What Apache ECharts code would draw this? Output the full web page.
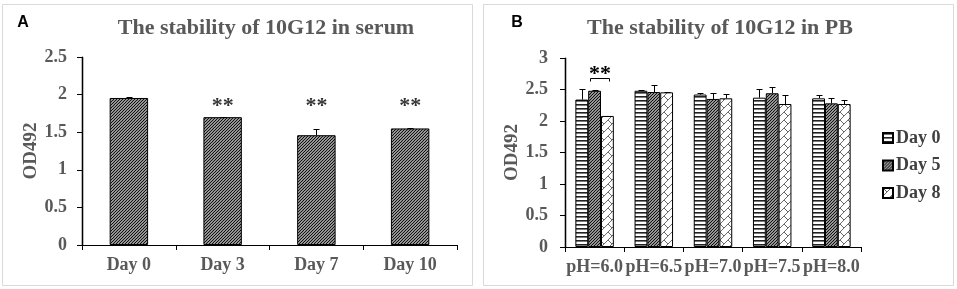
<!DOCTYPE html>
<html><head><meta charset="utf-8">
<script src="https://cdn.jsdelivr.net/npm/echarts@6/dist/echarts.min.js"></script>
<style>html,body{margin:0;padding:0;background:#fff}#c{width:957px;height:289px}</style>
</head><body><div id="c"></div>
<script>
// ---- data ----
const catA = ['Day 0', 'Day 3', 'Day 7', 'Day 10'];
const valA = [1.955, 1.70, 1.46, 1.55];
const errA = [0.01, 0.005, 0.08, 0.01];
const sigA = ['', '**', '**', '**'];
const sigAY = 1.84;

const catB = ['pH=6.0', 'pH=6.5', 'pH=7.0', 'pH=7.5', 'pH=8.0'];
const seriesNamesB = ['Day 0', 'Day 5', 'Day 8'];
const day0 = [2.34, 2.48, 2.42, 2.37, 2.36];
const err0 = [0.17, 0.01, 0.03, 0.14, 0.06];
const day5 = [2.48, 2.46, 2.35, 2.44, 2.28];
const err5 = [0.01, 0.11, 0.10, 0.10, 0.09];
const day8 = [2.08, 2.455, 2.36, 2.27, 2.27];
const err8 = [0.005, 0.005, 0.07, 0.14, 0.07];
const bracketB = [[0, 2.69]]; // significance bracket between Day 5 and Day 8 at pH=6.0

const yTicksA = {min: 0, max: 2.5, interval: 0.5};
const yTicksB = {min: 0, max: 3, interval: 0.5};

// ---- patterns ----
function mk(w, h, draw) {
  const c = document.createElement('canvas'); c.width = w; c.height = h;
  const g = c.getContext('2d'); g.fillStyle = '#fff'; g.fillRect(0, 0, w, h);
  draw(g); return {image: c, repeat: 'repeat'};
}
const patDiag = mk(3, 3, g => {
  g.strokeStyle = '#111'; g.lineWidth = 1.3;
  g.beginPath();
  g.moveTo(-1, 4); g.lineTo(4, -1);
  g.moveTo(-1, 1); g.lineTo(1, -1);
  g.moveTo(2, 4); g.lineTo(4, 2);
  g.stroke();
});
const patHoriz = mk(4, 4, g => {
  g.fillStyle = '#222'; g.fillRect(0, 0, 4, 1.6);
});
const patZig = mk(8, 8, g => {
  g.strokeStyle = '#444'; g.lineWidth = 0.8;
  g.beginPath();
  g.moveTo(0, 8); g.lineTo(8, 0);
  g.moveTo(0, 0); g.lineTo(4, 4);
  g.stroke();
});

const serif = '"Liberation Serif", "Times New Roman", serif';
const grey = '#595959';

const gapA = 0.59, gapB = 0.35;

function errRender(idx, n, gap) {
  return function (params, api) {
    const cat = api.value(0), v = api.value(1), e = api.value(2);
    const band = api.size([1, 0])[0];
    const gw = band * (1 - gap), bw = gw / n;
    const xc = Math.round(api.coord([cat, 0])[0] - gw / 2 + bw * (idx + 0.5)) + 0.5;
    const yb = api.coord([cat, v])[1], yt = Math.round(api.coord([cat, v + e])[1]) + 0.5;
    return {type: 'group', children: [
      {type: 'line', shape: {x1: xc, y1: yb, x2: xc, y2: yt}, style: {stroke: '#000', lineWidth: 1}},
      {type: 'line', shape: {x1: xc - 3, y1: yt, x2: xc + 3, y2: yt}, style: {stroke: '#000', lineWidth: 1}}
    ]};
  };
}

function yLineRender(params, api) {
  const band = api.size([1, 0])[0];
  const x = Math.round(api.coord([0, api.value(1)])[0] - band / 2) + 0.5;
  const y1 = api.coord([0, api.value(1)])[1], y2 = api.coord([0, api.value(2)])[1];
  return {type: 'line', shape: {x1: x, y1: y1 + 0.5, x2: x, y2: y2}, style: {stroke: '#000', lineWidth: 1.2}};
}

function axisCommon() {
  return {
    axisLine: {show: true, onZero: false, lineStyle: {color: '#000', width: 1.2}},
    axisTick: {show: true, length: 5, lineStyle: {color: '#000'}},
    splitLine: {show: false}
  };
}

const chart = echarts.init(document.getElementById('c'), null, {renderer: 'canvas'});
chart.setOption({
  animation: false,
  backgroundColor: '#fff',
  graphic: [
    {id: 'frameA', type: 'rect', shape: {x: 2.5, y: 4.5, width: 470, height: 281}, style: {fill: null, stroke: '#d9d9d9', lineWidth: 1}, z: -1, silent: true},
    {id: 'frameB', type: 'rect', shape: {x: 483.5, y: 4.5, width: 470, height: 281}, style: {fill: null, stroke: '#d9d9d9', lineWidth: 1}, z: -1, silent: true},
    {id: 'lblA', type: 'text', x: 23, y: 23, style: {text: 'A', font: 'bold 16px "Liberation Sans", Arial, sans-serif', fill: '#000', align: 'center', verticalAlign: 'middle'}},
    {id: 'lblB', type: 'text', x: 517, y: 23, style: {text: 'B', font: 'bold 16px "Liberation Sans", Arial, sans-serif', fill: '#000', align: 'center', verticalAlign: 'middle'}},
    {id: 'titleA', type: 'text', x: 266, y: 28, style: {text: 'The stability of 10G12 in serum', font: 'bold 22px ' + serif, fill: grey, align: 'center', verticalAlign: 'middle'}},
    {id: 'titleB', type: 'text', x: 720, y: 28, style: {text: 'The stability of 10G12 in PB', font: 'bold 22px ' + serif, fill: grey, align: 'center', verticalAlign: 'middle'}}
  ],
  grid: [
    {left: 82, top: 57, width: 375, height: 188},
    {left: 565, top: 58, width: 296, height: 189}
  ],
  legend: {
    data: seriesNamesB, orient: 'vertical', left: 877, top: 124,
    itemWidth: 10, itemHeight: 10, itemGap: 9.5, icon: 'rect',
    textStyle: {fontFamily: serif, fontWeight: 'bold', fontSize: 18, color: '#404040', padding: [0, 0, 0, -2]}
  },
  xAxis: [
    Object.assign({type: 'category', gridIndex: 0, data: catA,
      axisLabel: {fontFamily: serif, fontWeight: 'bold', fontSize: 18, color: grey, margin: 11}}, axisCommon()),
    Object.assign({type: 'category', gridIndex: 1, data: catB,
      axisLabel: {fontFamily: serif, fontWeight: 'bold', fontSize: 18, color: grey, margin: 11, interval: 0}}, axisCommon())
  ],
  yAxis: [
    Object.assign({type: 'value', gridIndex: 0, min: yTicksA.min, max: yTicksA.max, interval: yTicksA.interval,
      name: 'OD492', nameLocation: 'middle', nameGap: 40,
      nameTextStyle: {fontFamily: serif, fontWeight: 'bold', fontSize: 19, color: grey},
      axisLabel: {fontFamily: serif, fontWeight: 'bold', fontSize: 18, color: grey, margin: 15}}, axisCommon()),
    Object.assign({type: 'value', gridIndex: 1, min: yTicksB.min, max: yTicksB.max, interval: yTicksB.interval,
      name: 'OD492', nameLocation: 'middle', nameGap: 40,
      nameTextStyle: {fontFamily: serif, fontWeight: 'bold', fontSize: 19, color: grey},
      axisLabel: {fontFamily: serif, fontWeight: 'bold', fontSize: 18, color: grey, margin: 17}}, axisCommon())
  ],
  series: [
    {type: 'bar', name: 'serum', xAxisIndex: 0, yAxisIndex: 0, data: valA, barCategoryGap: (gapA * 100) + '%',
      itemStyle: {color: patDiag, borderColor: '#000', borderWidth: 1}},
    {type: 'custom', name: 'errA', xAxisIndex: 0, yAxisIndex: 0, z: 5,
      data: valA.map((v, i) => [i, v, errA[i]]), encode: {x: 0, y: 1},
      renderItem: errRender(0, 1, gapA)},
    {type: 'scatter', name: 'sigA', xAxisIndex: 0, yAxisIndex: 0, symbolSize: 0,
      data: sigA.map((s, i) => [i, sigAY, s]).filter(d => d[2]),
      label: {show: true, position: 'inside', formatter: p => p.value[2],
        fontFamily: serif, fontWeight: 'bold', fontSize: 22, color: '#000'}},
    {type: 'custom', name: 'yLineA', xAxisIndex: 0, yAxisIndex: 0, z: 10, clip: false, silent: true,
      data: [[0, yTicksA.min, yTicksA.max]], encode: {x: 0, y: [1, 2]}, renderItem: yLineRender},

    {type: 'bar', name: seriesNamesB[0], xAxisIndex: 1, yAxisIndex: 1, data: day0, barGap: '0%', barCategoryGap: (gapB * 100) + '%',
      itemStyle: {color: patHoriz, borderColor: '#000', borderWidth: 1}},
    {type: 'bar', name: seriesNamesB[1], xAxisIndex: 1, yAxisIndex: 1, data: day5, barGap: '0%', barCategoryGap: (gapB * 100) + '%',
      itemStyle: {color: patDiag, borderColor: '#000', borderWidth: 1}},
    {type: 'bar', name: seriesNamesB[2], xAxisIndex: 1, yAxisIndex: 1, data: day8, barGap: '0%', barCategoryGap: (gapB * 100) + '%',
      itemStyle: {color: patZig, borderColor: '#000', borderWidth: 1}},
    {type: 'custom', name: 'err0', xAxisIndex: 1, yAxisIndex: 1, z: 5,
      data: day0.map((v, i) => [i, v, err0[i]]), encode: {x: 0, y: 1}, renderItem: errRender(0, 3, gapB)},
    {type: 'custom', name: 'err5', xAxisIndex: 1, yAxisIndex: 1, z: 5,
      data: day5.map((v, i) => [i, v, err5[i]]), encode: {x: 0, y: 1}, renderItem: errRender(1, 3, gapB)},
    {type: 'custom', name: 'err8', xAxisIndex: 1, yAxisIndex: 1, z: 5,
      data: day8.map((v, i) => [i, v, err8[i]]), encode: {x: 0, y: 1}, renderItem: errRender(2, 3, gapB)},
    {type: 'custom', name: 'yLineB', xAxisIndex: 1, yAxisIndex: 1, z: 10, clip: false, silent: true,
      data: [[0, yTicksB.min, yTicksB.max]], encode: {x: 0, y: [1, 2]}, renderItem: yLineRender},
    {type: 'custom', name: 'bracketB', xAxisIndex: 1, yAxisIndex: 1, z: 5,
      data: bracketB, encode: {x: 0, y: 1},
      renderItem: function (params, api) {
        const cat = api.value(0), v = api.value(1);
        const band = api.size([1, 0])[0];
        const gw = band * (1 - gapB), bw = gw / 3;
        const x0 = api.coord([cat, 0])[0] - gw / 2;
        const xl = Math.round(x0 + bw * 1.15) + 0.5, xr = Math.round(x0 + bw * 2.6) + 0.5;
        const y = Math.round(api.coord([cat, v])[1]) + 0.5;
        return {type: 'group', children: [
          {type: 'polyline', shape: {points: [[xl, y + 3], [xl, y], [xr, y], [xr, y + 3]]}, style: {stroke: '#000', lineWidth: 1, fill: null}},
          {type: 'text', x: (xl + xr) / 2, y: y - 4, style: {text: '**', font: 'bold 22px ' + serif, fill: '#000', align: 'center', verticalAlign: 'middle'}}
        ]};
      }}
  ]
});

// reinforce the value-axis lines, positioned from the library's own axis conversion
function axisLineGraphic(id, gridIndex, yMin, yMax) {
  const p0 = chart.convertToPixel({xAxisIndex: gridIndex, yAxisIndex: gridIndex}, [0, yMin]);
  const p1 = chart.convertToPixel({xAxisIndex: gridIndex, yAxisIndex: gridIndex}, [0, yMax]);
  const band = chart.getModel().getComponent('xAxis', gridIndex).axis.getBandWidth();
  const x = Math.round(p0[0] - band / 2) + 0.5;
  return {id: id, type: 'line', z: 100, silent: true,
    shape: {x1: x, y1: p0[1] + 0.5, x2: x, y2: p1[1]}, style: {stroke: '#000', lineWidth: 1.2}};
}
try {
  chart.setOption({graphic: [axisLineGraphic('yLineGA', 0, yTicksA.min, yTicksA.max),
                             axisLineGraphic('yLineGB', 1, yTicksB.min, yTicksB.max)]});
} catch (e) {}
</script></body></html>
